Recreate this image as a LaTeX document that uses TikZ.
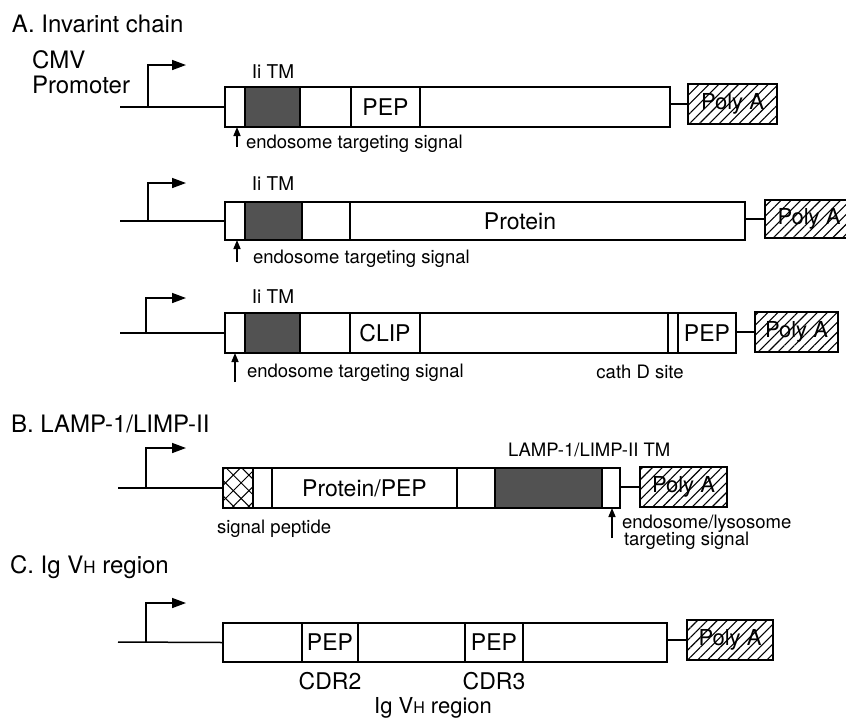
\documentclass[tikz,border=0pt]{standalone}
\usepackage{fontspec}
\setmainfont{TeX Gyre Heros}
\usetikzlibrary{arrows.meta,patterns.meta,fit}
\begin{document}
\begin{tikzpicture}[x=1pt,y=-1pt,
  every node/.style={inner sep=0pt, outer sep=0pt},
  seg/.style={draw, line width=1.5pt, inner sep=0pt},
  boxtxt/.style={font=\fontsize{23}{26}\selectfont},
  patxt/.style={font=\fontsize{22}{26}\selectfont},
  tmseg/.style={seg, fill=black!68},
  spseg/.style={seg, pattern={Lines[angle=45,distance=11pt,line width=1pt]}},
  polya/.style={seg, pattern={Lines[angle=45,distance=7pt,line width=1.1pt]}},
  wire/.style={line width=1.5pt},
  prom/.style={line width=1.5pt, -{Triangle[length=14pt,width=10pt]}},
  sigarr/.style={line width=1.5pt, -{Triangle[length=9pt,width=7pt]}},
  ttl/.style={font=\fontsize{24}{28}\selectfont, anchor=base west},
  smalllab/.style={font=\fontsize{18.5}{21}\selectfont, anchor=base west},
  tmlab/.style={font=\fontsize{19}{22}\selectfont, anchor=base},
  cdrlab/.style={font=\fontsize{23}{26}\selectfont, anchor=base},
]
\useasboundingbox (0,0) rectangle (846,724);

% ---------- A. titles
\node[ttl] (tA) at (12,32) {A. Invarint chain};
\node[ttl] (cmv) at (32,68) {CMV};
\node[ttl] (promo) at (32,93) {Promoter};

% ---------- Row A1
\node[seg, fit={(225,87)(245,127)}] (a1n) {};
\node[tmseg, fit={(245,87)(300,127)}] (a1tm) {};
\node[seg, fit={(300,87)(351,127)}] (a1g) {};
\node[seg, fit={(351,87)(420,127)}, label={[boxtxt]center:PEP}] (a1pep) {};
\node[seg, fit={(420,87)(670,127)}] (a1r) {};
\node[polya, fit={(688,84)(777,124)}, label={[patxt]center:Poly A}] (a1pa) {};
\draw[wire] (a1pa.west -| a1r.east) -- (a1pa.west);
\coordinate (a1s) at (120,107);
\draw[wire] (a1s) -- (a1n.west);
\coordinate (a1b) at (148,107);
\coordinate (a1t) at (186,65);
\draw[prom] (a1b) |- (a1t);
\node[tmlab] (a1tml) at (273,78) {Ii TM};
\coordinate (a1up) at (237,147);
\draw[sigarr] (a1up) -- (a1up |- a1n.south);
\node[smalllab] (a1sig) at (246,148) {endosome targeting signal};

% ---------- Row A2
\node[seg, fit={(225,202)(245,240)}] (a2n) {};
\node[tmseg, fit={(245,202)(302,240)}] (a2tm) {};
\node[seg, fit={(302,202)(350,240)}] (a2g) {};
\node[seg, fit={(350,202)(745,240)}] (a2prot) {};
\node[boxtxt] (a2protl) at (520,221) {Protein};
\node[polya, fit={(765,200)(856,238)}] (a2pa) {};
\node[patxt] (a2pal) at (809,219) {Poly A};
\draw[wire] (a2pa.west -| a2prot.east) -- (a2pa.west);
\coordinate (a2s) at (120,221);
\draw[wire] (a2s) -- (a2n.west);
\coordinate (a2b) at (148,221);
\coordinate (a2t) at (186,183);
\draw[prom] (a2b) |- (a2t);
\node[tmlab] (a2tml) at (273,190) {Ii TM};
\coordinate (a2up) at (237,262);
\draw[sigarr] (a2up) -- (a2up |- a2n.south);
\node[smalllab] (a2sig) at (253,263) {endosome targeting signal};

% ---------- Row A3
\node[seg, fit={(225,313)(245,353)}] (a3n) {};
\node[tmseg, fit={(245,313)(300,353)}] (a3tm) {};
\node[seg, fit={(300,313)(350,353)}] (a3g) {};
\node[seg, fit={(350,313)(420,353)}, label={[boxtxt]center:CLIP}] (a3clip) {};
\node[seg, fit={(420,313)(668,353)}] (a3r) {};
\node[seg, fit={(668,313)(678,353)}] (a3c) {};
\node[seg, fit={(678,313)(736,353)}, label={[boxtxt]center:PEP}] (a3pep) {};
\node[polya, fit={(755,312)(838,352)}, label={[patxt]center:Poly A}] (a3pa) {};
\draw[wire] (a3pa.west -| a3pep.east) -- (a3pa.west);
\coordinate (a3s) at (120,333);
\draw[wire] (a3s) -- (a3n.west);
\coordinate (a3b) at (146,333);
\coordinate (a3t) at (186,298);
\draw[prom] (a3b) |- (a3t);
\node[tmlab] (a3tml) at (273,303) {Ii TM};
\coordinate (a3up) at (235,382);
\draw[sigarr] (a3up) -- (a3up |- a3n.south);
\node[smalllab] (a3sig) at (247,377) {endosome targeting signal};
\node[smalllab, anchor=base] (cathd) at (640,378) {cath D site};

% ---------- B
\node[ttl] (tB) at (11,432) {B. LAMP-1/LIMP-II};
\node[spseg, fit={(223,468)(253,508)}] (bsp) {};
\fill[pattern={Lines[angle=-45,distance=11pt,line width=1pt]}] (bsp.south west) rectangle (bsp.north east);
\node[seg, fit={(253,468)(272,508)}] (bg1) {};
\node[seg, fit={(272,468)(457,508)}, label={[boxtxt]center:Protein/PEP}] (bprot) {};
\node[seg, fit={(457,468)(495,508)}] (bg2) {};
\node[tmseg, fit={(495,468)(602,508)}] (btm) {};
\node[seg, fit={(602,468)(620,508)}] (bn) {};
\node[polya, fit={(640,467)(727,507)}, label={[patxt]center:Poly A}] (bpa) {};
\draw[wire] (bpa.west -| bn.east) -- (bpa.west);
\coordinate (bs) at (118,488);
\draw[wire] (bs) -- (bsp.west);
\coordinate (bb) at (146,488);
\coordinate (bt) at (186,448);
\draw[prom] (bb) |- (bt);
\node[smalllab] (btml) at (508,456) {LAMP-1/LIMP-II TM};
\node[smalllab] (bsig) at (217,533) {signal peptide};
\coordinate (bup) at (612,538);
\draw[sigarr] (bup) -- (bup |- bn.south);
\node[smalllab] (bel1) at (622,528) {endosome/lysosome};
\node[smalllab] (bel2) at (624,545) {targeting signal};

% ---------- C
\node[ttl] (tC) at (10,573) {C. Ig V{\fontsize{17}{20}\selectfont H} region};
\node[seg, fit={(223,623)(302,662)}] (c1) {};
\node[seg, fit={(302,623)(358,662)}, label={[boxtxt]center:PEP}] (cpep1) {};
\node[seg, fit={(358,623)(465,662)}] (c2) {};
\node[seg, fit={(465,623)(523,662)}, label={[boxtxt]center:PEP}] (cpep2) {};
\node[seg, fit={(523,623)(667,662)}] (c3) {};
\node[polya, fit={(687,620)(773,660)}, label={[patxt]center:Poly A}] (cpa) {};
\draw[wire] (cpa.west -| c3.east) -- (cpa.west);
\coordinate (cs) at (118,642);
\draw[wire] (cs) -- (c1.west);
\coordinate (cb) at (146,642);
\coordinate (ct) at (186,603);
\draw[prom] (cb) |- (ct);
\node[cdrlab] (cdr2) at (330,689) {CDR2};
\node[cdrlab] (cdr3) at (494,689) {CDR3};
\node[cdrlab, font=\fontsize{22}{26}\selectfont] (igvh) at (433,713) {Ig V{\fontsize{16}{20}\selectfont H} region};
\end{tikzpicture}
\end{document}
